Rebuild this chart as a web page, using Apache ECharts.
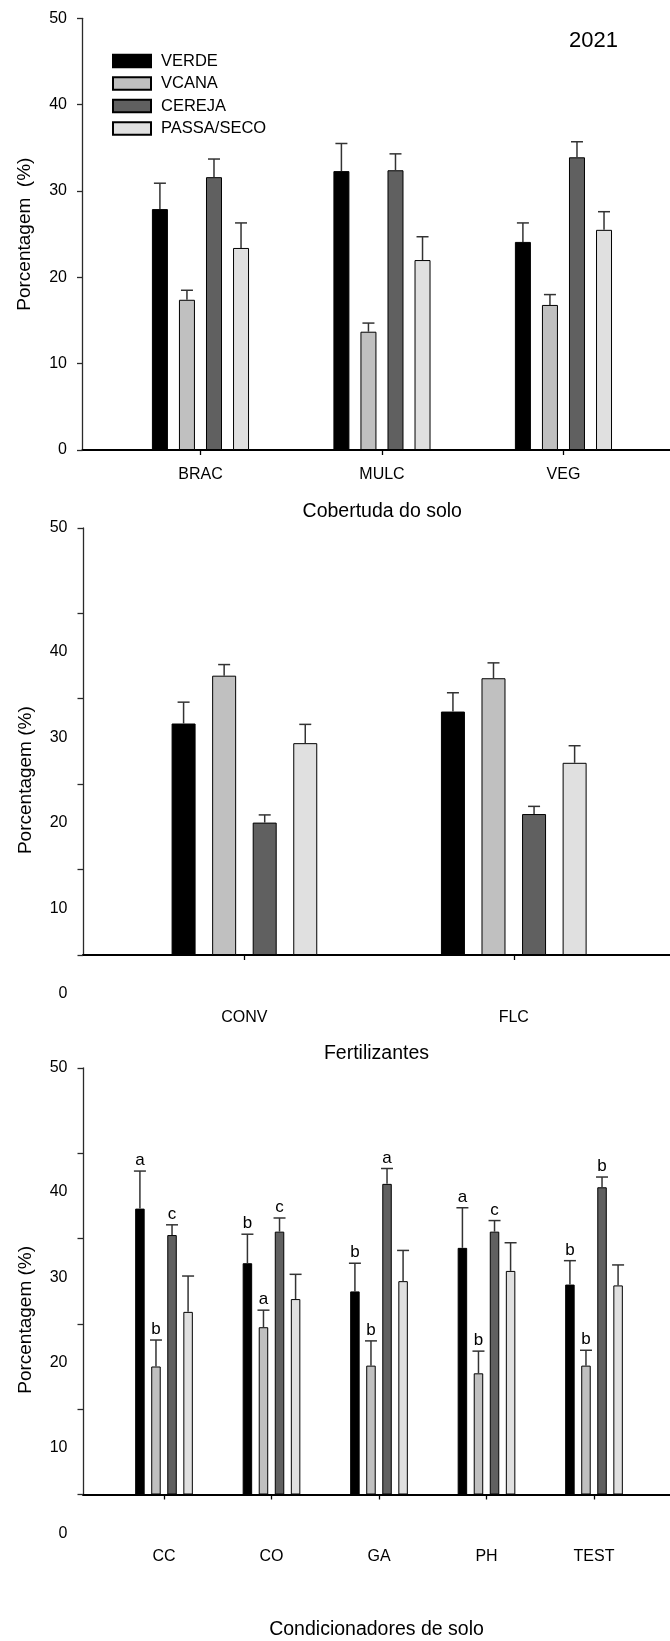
<!DOCTYPE html>
<html><head><meta charset="utf-8">
<script src="https://cdn.jsdelivr.net/npm/echarts@6/dist/echarts.min.js"></script>
<style>html,body{margin:0;padding:0;background:#fff}#c{width:670px;height:1641px}</style>
</head><body><div id="c"></div>
<script>
// ---------- data ----------
const seriesNames = ['VERDE', 'VCANA', 'CEREJA', 'PASSA/SECO'];
const yTickValues = [0, 10, 20, 30, 40, 50];
const yearLabel = '2021';

// Panel 1: Cobertuda do solo
const coverCats = ['BRAC', 'MULC', 'VEG'];
const coverVerde = [27.9, 32.3, 24.1];
const coverVcana = [17.4, 13.7, 16.8];
const coverCereja = [31.6, 32.4, 33.9];
const coverPassa = [23.4, 22.0, 25.5];
const coverVerdeErr = [3.0, 3.2, 2.2];
const coverVcanaErr = [1.1, 1.0, 1.2];
const coverCerejaErr = [2.1, 1.9, 1.8];
const coverPassaErr = [2.9, 2.7, 2.1];

// Panel 2: Fertilizantes
const fertCats = ['CONV', 'FLC'];
const fertVerde = [27.1, 28.5];
const fertVcana = [32.7, 32.4];
const fertCereja = [15.5, 16.5];
const fertPassa = [24.8, 22.5];
const fertVerdeErr = [2.5, 2.2];
const fertVcanaErr = [1.3, 1.8];
const fertCerejaErr = [0.9, 0.9];
const fertPassaErr = [2.2, 2.0];

// Panel 3: Condicionadores de solo
const condCats = ['CC', 'CO', 'GA', 'PH', 'TEST'];
const condVerde = [33.5, 27.1, 23.8, 28.9, 24.6];
const condVcana = [15.0, 19.6, 15.1, 14.2, 15.1];
const condCereja = [30.4, 30.8, 36.4, 30.8, 36.0];
const condPassa = [21.4, 22.9, 25.0, 26.2, 24.5];
const condVerdeErr = [4.4, 3.4, 3.3, 4.7, 2.8];
const condVcanaErr = [3.1, 2.0, 2.9, 2.6, 1.8];
const condCerejaErr = [1.2, 1.6, 1.8, 1.3, 1.2];
const condPassaErr = [4.2, 2.9, 3.6, 3.3, 2.4];
const condVerdeLetters = ['a', 'b', 'b', 'a', 'b'];
const condVcanaLetters = ['b', 'a', 'b', 'b', 'b'];
const condCerejaLetters = ['c', 'c', 'a', 'c', 'b'];
const condPassaLetters = ['', '', '', '', ''];

// ---------- styling / layout ----------
const FONT = '"Liberation Sans", Arial, Helvetica, sans-serif';
const seriesColors = ['#000000', '#c0c0c0', '#606060', '#e0e0e0'];
const GAP_PCT = 0.69;

const panels = [
  { cats: coverCats,
    vals: [coverVerde, coverVcana, coverCereja, coverPassa],
    errs: [coverVerdeErr, coverVcanaErr, coverCerejaErr, coverPassaErr],
    letters: null,
    grid: { left: 82.5, top: 18.3, height: 431.7 },
    xMin: 0.35, xMax: 3.587, barWidth: 16,
    xName: 'Cobertuda do solo', xNameGap: 52, xNamePad: [0, 0, 0, 12],
    yName: 'Porcentagem  (%)', shift: 0, xLabelMargin: 17 },
  { cats: fertCats,
    vals: [fertVerde, fertVcana, fertCereja, fertPassa],
    errs: [fertVerdeErr, fertVcanaErr, fertCerejaErr, fertPassaErr],
    letters: null,
    grid: { left: 83, top: 527.9, height: 427.1 },
    xMin: 0.4007, xMax: 2.58, barWidth: 24,
    xName: 'Fertilizantes', xNameGap: 88.6, xNamePad: [0, 0, 0, 0],
    yName: 'Porcentagem (%)', shift: 38.7, xLabelMargin: 54.5 },
  { cats: condCats,
    vals: [condVerde, condVcana, condCereja, condPassa],
    errs: [condVerdeErr, condVcanaErr, condCerejaErr, condPassaErr],
    letters: [condVerdeLetters, condVcanaLetters, condCerejaLetters, condPassaLetters],
    grid: { left: 83, top: 1067.8, height: 426.7 },
    xMin: 0.2465, xMax: 5.707, barWidth: 9.5,
    xName: 'Condicionadores de solo', xNameGap: 125.5, xNamePad: [0, 0, 0, 0],
    yName: 'Porcentagem (%)', shift: 38.7, xLabelMargin: 54.2 }
];

const grids = [], xAxes = [], yAxes = [], series = [];

panels.forEach((p, k) => {
  grids.push({ left: p.grid.left, right: 0, top: p.grid.top, height: p.grid.height,
               containLabel: false, outerBoundsMode: 'none' });

  const catPositions = p.cats.map((c, i) => i + 1);
  xAxes.push({
    type: 'value', gridIndex: k, min: p.xMin, max: p.xMax,
    splitLine: { show: false },
    axisLine: { show: true, onZero: false, lineStyle: { color: '#000', width: 2 } },
    axisTick: { show: true, customValues: catPositions, length: 5, inside: false,
                lineStyle: { color: '#000', width: 1.3 } },
    axisLabel: { show: true, customValues: catPositions, margin: p.xLabelMargin,
                 formatter: v => p.cats[Math.round(v) - 1] || '',
                 fontSize: 16, color: '#000', fontFamily: FONT },
    name: p.xName, nameLocation: 'middle', nameGap: p.xNameGap, nameMoveOverlap: false,
    nameTextStyle: { fontSize: 19.5, color: '#000', fontFamily: FONT, padding: p.xNamePad }
  });

  const rich = {
    n: { fontSize: 16, color: '#000', fontFamily: FONT },
    s: { fontSize: 16, color: '#000', fontFamily: FONT, padding: [p.shift * 2, 0, 0, 0] }
  };
  yAxes.push({
    type: 'value', gridIndex: k, min: yTickValues[0], max: yTickValues[yTickValues.length - 1],
    interval: 10,
    splitLine: { show: false },
    axisLine: { show: true, lineStyle: { color: '#2a2a2a', width: 1.3 } },
    axisTick: { show: true, length: 5.5, lineStyle: { color: '#2a2a2a', width: 1.3 } },
    axisLabel: {
      margin: 15.5, fontSize: 16, color: '#000', fontFamily: FONT,
      showMinLabel: true, showMaxLabel: true,
      formatter: v => (p.shift && v !== 50) ? '{s|' + v + '}' : '{n|' + v + '}',
      rich: rich
    },
    name: p.yName, nameLocation: 'middle', nameGap: 48, nameMoveOverlap: false,
    nameTextStyle: { fontSize: 19, color: '#000', fontFamily: FONT,
                     padding: [0, p.shift * 2, 0, 0] }
  });

  seriesNames.forEach((nm, s) => {
    series.push({
      type: 'bar', name: nm, xAxisIndex: k, yAxisIndex: k,
      barWidth: p.barWidth, barGap: (GAP_PCT * 100) + '%',
      data: p.cats.map((c, i) => [i + 1, p.vals[s][i]]),
      itemStyle: { color: seriesColors[s], borderColor: '#000', borderWidth: 1 },
      emphasis: { disabled: true }, silent: true, animation: false
    });
  });

  const errData = [], letterList = [];
  seriesNames.forEach((nm, s) => {
    p.cats.forEach((c, i) => {
      errData.push([i + 1, s, p.vals[s][i], p.errs[s][i]]);
      letterList.push(p.letters ? p.letters[s][i] : '');
    });
  });
  const pitch = p.barWidth * (1 + GAP_PCT);
  series.push({
    type: 'custom', xAxisIndex: k, yAxisIndex: k, silent: true, animation: false, z: 5,
    encode: { x: 0, y: 2 },
    data: errData,
    renderItem: (params, api) => {
      const x = api.value(0), s = api.value(1), v = api.value(2), e = api.value(3);
      const b = api.coord([x, v]);
      const t = api.coord([x, v + e]);
      const cx = b[0] + (s - 1.5) * pitch;
      const ls = { stroke: '#333', lineWidth: 1.5 };
      const children = [
        { type: 'line', shape: { x1: cx, y1: b[1], x2: cx, y2: t[1] }, style: ls },
        { type: 'line', shape: { x1: cx - 6, y1: t[1], x2: cx + 6, y2: t[1] }, style: ls }
      ];
      const letter = letterList[params.dataIndex];
      if (letter) {
        children.push({ type: 'text', style: { text: letter, x: cx, y: t[1] - 2,
          align: 'center', verticalAlign: 'bottom', fontSize: 17, fill: '#000', fontFamily: FONT } });
      }
      return { type: 'group', children: children };
    }
  });
});

const chart = echarts.init(document.getElementById('c'), null, { renderer: 'canvas' });
chart.setOption({
  backgroundColor: '#fff',
  animation: false,
  textStyle: { fontFamily: FONT },
  title: { text: yearLabel, left: 569, top: 30, padding: 0,
           textStyle: { fontSize: 22, fontWeight: 'normal', color: '#000', fontFamily: FONT } },
  legend: {
    data: seriesNames, orient: 'vertical', left: 112, top: 52.5, padding: 0,
    itemWidth: 38, itemHeight: 12.5, itemGap: 5.5, icon: 'rect', selectedMode: false,
    textStyle: { fontSize: 16.5, color: '#000', fontFamily: FONT, padding: [0, 0, 0, 5] }
  },
  grid: grids, xAxis: xAxes, yAxis: yAxes, series: series
});
</script></body></html>
